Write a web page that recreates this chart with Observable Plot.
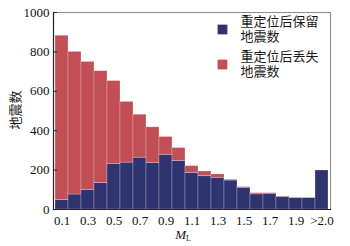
<!DOCTYPE html>
<html>
<head>
<meta charset="utf-8">
<script src="https://cdn.jsdelivr.net/npm/d3@7"></script>
<script src="https://cdn.jsdelivr.net/npm/@observablehq/plot@0.6"></script>
<style>
html,body{margin:0;padding:0;background:#fff;}
#chart{position:relative;width:350px;height:246px;}
#chart svg text{font-family:'Liberation Serif','Noto Sans CJK SC',serif !important;}
#chart svg text.cjk{font-family:'Noto Sans CJK SC',sans-serif !important;}
</style>
</head>
<body>
<div id="chart"></div>
<script>
const categories = ["0.1","0.2","0.3","0.4","0.5","0.6","0.7","0.8","0.9","1.0","1.1","1.2","1.3","1.4","1.5","1.6","1.7","1.8","1.9","2.0",">2.0"];
const retained = [48, 76, 100, 134, 232, 238, 263, 237, 278, 246, 186, 169, 161, 147, 110, 77, 80, 63, 58, 58, 198];
const lost     = [834, 724, 649, 568, 420, 308, 218, 180, 90, 66, 34, 24, 17, 4, 4, 6, 3, 3, 0, 0, 0];
const seriesNames = ["重定位后保留\n地震数", "重定位后丢失\n地震数"];
const seriesColors = ["#2f336f", "#c24f55"];
const tickLabels = ["0.1","0.3","0.5","0.7","0.9","1.1","1.3","1.5","1.7","1.9",">2.0"];
const yTicks = [0, 200, 400, 600, 800, 1000];

const rows = [];
categories.forEach((c, i) => {
  rows.push({ml: c, series: seriesNames[0], count: retained[i]});
  rows.push({ml: c, series: seriesNames[1], count: lost[i]});
});
const legendA = [{series: seriesNames[0]}];
const legendB = [{series: seriesNames[1]}];

const serif = "'Liberation Serif', 'Noto Sans CJK SC', serif";
const legendMarks = (data, dy) => [
  Plot.dot(data, {frameAnchor: "top-left", dx: 169, dy: dy + 14, symbol: "square", r: 5.5, fill: "series", stroke: "none"}),
  Plot.text(data, {frameAnchor: "top-left", dx: 187, dy: dy, text: "series", textAnchor: "start", lineAnchor: "top", lineHeight: 1.16, fontSize: 13, fill: "#1a1a1a"})
];
const chart = Plot.plot({
  width: 350,
  height: 246,
  marginLeft: 53,
  marginRight: 20,
  marginTop: 12,
  marginBottom: 37,
  style: {fontFamily: serif, fontSize: "13px", color: "#111", background: "#fff"},
  x: {domain: categories, padding: 0, label: null},
  y: {domain: [0, 1000], label: null},
  color: {domain: seriesNames, range: seriesColors},
  marks: [
    Plot.barY(rows, {x: "ml", y: "count", fill: "series", order: seriesNames, stroke: "#fff", strokeOpacity: 0.35, strokeWidth: 0.7}),
    Plot.frame({stroke: "#8a8a8a", strokeWidth: 1}),
    Plot.frame({anchor: "left", stroke: "#222", strokeWidth: 1.2}),
    Plot.frame({anchor: "bottom", stroke: "#222", strokeWidth: 1.2}),
    Plot.axisY({ticks: yTicks, tickFormat: d3.format("d"), tickSize: -4, tickPadding: 8, fontSize: 13, fill: "#111", stroke: "#222"}),
    Plot.axisX({tickSize: 0, tickPadding: 6, fontSize: 13, fill: "#111",
      tickFormat: d => tickLabels.includes(d) ? d : ""}),
    ...legendMarks(legendA, 3),
    ...legendMarks(legendB, 38)
  ]
});
document.getElementById("chart").appendChild(chart);

const svg = d3.select(chart);
// y-axis title
svg.append("text")
  .attr("class", "cjk")
  .attr("transform", "translate(20,110) rotate(-90)")
  .attr("text-anchor", "middle")
  .attr("font-size", 13)
  .attr("fill", "#222")
  .text("地震数");
// x-axis title M_L
const xt = svg.append("text")
  .attr("x", 183).attr("y", 239)
  .attr("text-anchor", "middle")
  .attr("font-size", 13)
  .attr("fill", "#111");
xt.append("tspan").attr("font-style", "italic").text("M");
xt.append("tspan").attr("font-size", 8).attr("dy", 2).text("L");
</script>
</body>
</html>
